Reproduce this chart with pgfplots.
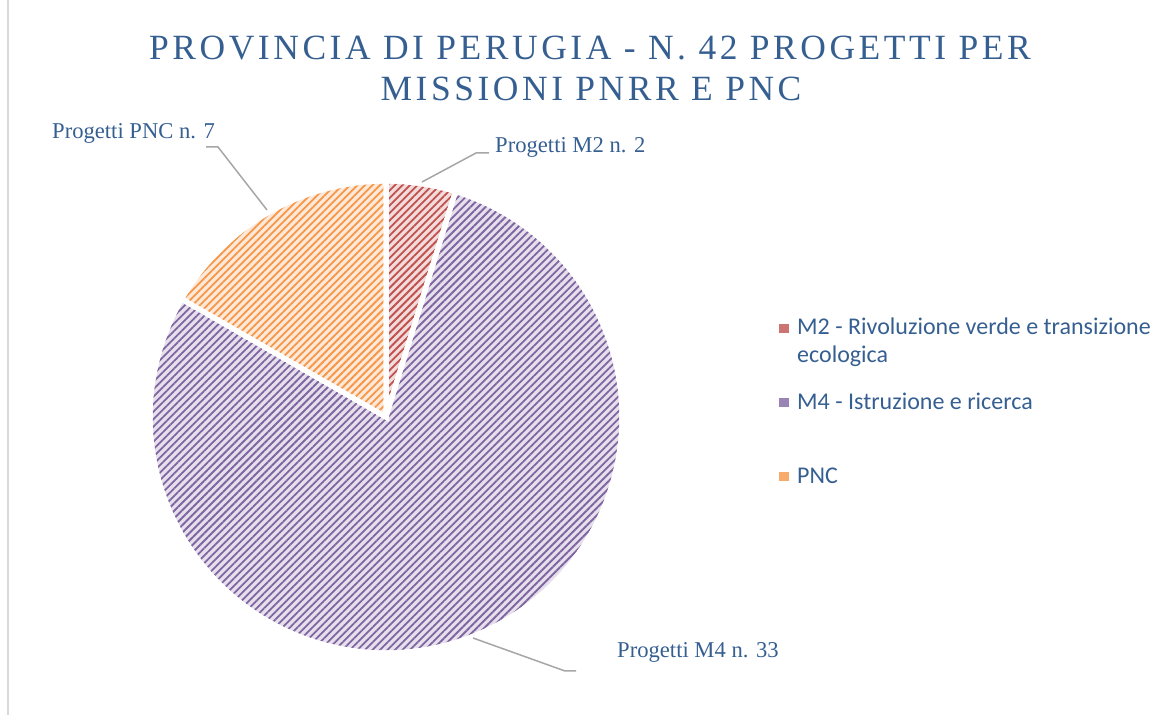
\documentclass[border=0pt]{standalone}
\usepackage{pgfplots}
\pgfplotsset{compat=1.18}
\usepackage{pgfplotstable}
\usepackage{fontspec}
\setmainfont{Liberation Serif}
\newfontfamily\titlefont[LetterSpace=10]{Liberation Serif}
\newfontfamily\legfont{Carlito}
\usetikzlibrary{patterns.meta}
\definecolor{txt}{HTML}{365F91}
\definecolor{redS}{HTML}{C0504D}\definecolor{redB}{HTML}{F2DCDB}
\definecolor{purS}{HTML}{8064A2}\definecolor{purB}{HTML}{E5E0EC}
\definecolor{orgS}{HTML}{F79646}\definecolor{orgB}{HTML}{FDE9D9}
\definecolor{lead}{HTML}{A6A6A6}

\pgfplotstableread{
name value
M2 2
M4 33
PNC 7
}\piedata

\begin{document}%
\begin{tikzpicture}
\pgfplotstablegetelem{0}{value}\of\piedata \edef\vA{\pgfplotsretval}
\pgfplotstablegetelem{1}{value}\of\piedata \edef\vB{\pgfplotsretval}
\pgfplotstablegetelem{2}{value}\of\piedata \edef\vC{\pgfplotsretval}
\pgfmathsetmacro\tot{\vA+\vB+\vC}
\pgfmathsetmacro\aA{90-360*\vA/\tot}
\pgfmathsetmacro\aB{\aA-360*\vB/\tot}
\pgfmathsetmacro\aC{\aB-360*\vC/\tot}
\begin{axis}[x=1bp,y=1bp,xmin=0,xmax=1175,ymin=0,ymax=715,hide axis,clip=false]
\draw[color=black!15, line width=1.5bp] (axis cs:8,0) -- (axis cs:8,715);
% slices
\addplot[domain=\aA:90, samples=40, variable=\t, draw=white, line width=5bp,
  preaction={fill=redB}, preaction={pattern={Lines[angle=45,distance=5.3bp,line width=1.8bp]},pattern color=redS}]
  ({386+236*cos(\t)},{298+236*sin(\t)}) -- (axis cs:386,298) -- cycle;
\addplot[domain=\aB:\aA, samples=200, variable=\t, draw=white, line width=5bp,
  preaction={fill=purB}, preaction={pattern={Lines[angle=45,distance=5.3bp,line width=1.8bp]},pattern color=purS}]
  ({386+236*cos(\t)},{298+236*sin(\t)}) -- (axis cs:386,298) -- cycle;
\addplot[domain=\aC:\aB, samples=60, variable=\t, draw=white, line width=5bp,
  preaction={fill=orgB}, preaction={pattern={Lines[angle=45,distance=5.3bp,line width=1.8bp]},pattern color=orgS}]
  ({386+236*cos(\t)},{298+236*sin(\t)}) -- (axis cs:386,298) -- cycle;
% leader lines
\draw[lead, line width=1.5bp] (axis cs:206,568) -- (axis cs:218,568) -- (axis cs:267,505);
\draw[lead, line width=1.5bp] (axis cs:422,533) -- (axis cs:476,562) -- (axis cs:489,562);
\draw[lead, line width=1.5bp] (axis cs:473,77) -- (axis cs:565,44) -- (axis cs:576,44);
% data labels
\node[anchor=base west, text=txt, font={\fontsize{22.7}{27}\selectfont}, inner sep=0pt] at (axis cs:495,562) {Progetti M2 n. 2};
\node[anchor=base west, text=txt, font={\fontsize{22.7}{27}\selectfont}, inner sep=0pt] at (axis cs:52,576) {Progetti PNC n. 7};
\node[anchor=base west, text=txt, font={\fontsize{22.7}{27}\selectfont}, inner sep=0pt] at (axis cs:617,57) {Progetti M4 n. 33};
% title
\node[anchor=base, text=txt, font={\titlefont\fontsize{35.6}{41}\selectfont}, inner sep=0pt] at (axis cs:590,655) {PROVINCIA DI PERUGIA - N. 42 PROGETTI PER};
\node[anchor=base, text=txt, font={\titlefont\fontsize{35.6}{41}\selectfont}, inner sep=0pt] at (axis cs:591,614) {MISSIONI PNRR E PNC};
% legend
\fill[redS!80] (axis cs:779,382) rectangle (axis cs:789,391);
\fill[purS!80] (axis cs:779,308) rectangle (axis cs:789,317);
\fill[orgS!80] (axis cs:779,234) rectangle (axis cs:789,243);
\node[anchor=base west, text=txt, font={\legfont\fontsize{24.1}{28}\selectfont}, inner sep=0pt] at (axis cs:797,380) {M2 - Rivoluzione verde e transizione};
\node[anchor=base west, text=txt, font={\legfont\fontsize{24.1}{28}\selectfont}, inner sep=0pt] at (axis cs:797,352) {ecologica};
\node[anchor=base west, text=txt, font={\legfont\fontsize{24.1}{28}\selectfont}, inner sep=0pt] at (axis cs:797,305) {M4 - Istruzione e ricerca};
\node[anchor=base west, text=txt, font={\legfont\fontsize{24.1}{28}\selectfont}, inner sep=0pt] at (axis cs:797,231) {PNC};
\end{axis}
\pgfresetboundingbox
\useasboundingbox (current axis.south west) rectangle (current axis.north east);
\end{tikzpicture}%
\end{document}
